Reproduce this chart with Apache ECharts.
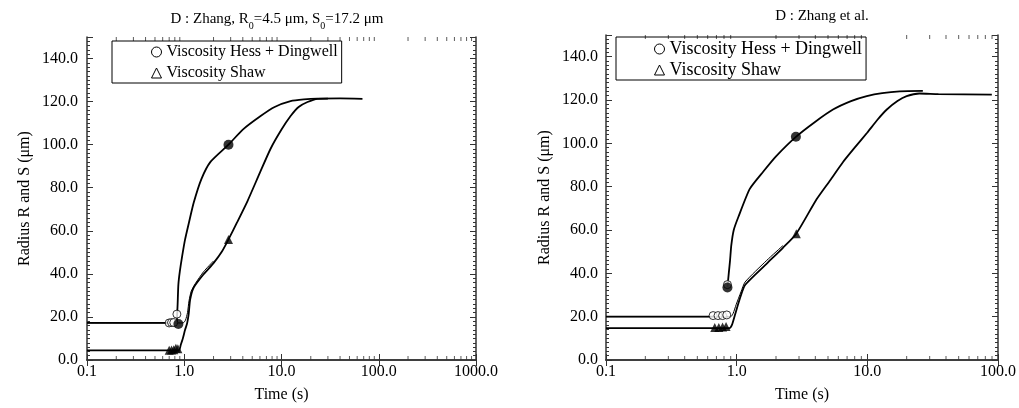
<!DOCTYPE html>
<html><head><meta charset="utf-8">
<script src="https://cdn.jsdelivr.net/npm/echarts@6/dist/echarts.min.js"></script>
<style>html,body{margin:0;padding:0;background:#fff}#c{width:1019px;height:408px}</style>
</head><body><div id="c"></div>
<script>
// ---------- DATA ----------
const leftTitle = 'D : Zhang, R{sub|0}=4.5 μm, S{sub|0}=17.2 μm';
const rightTitle = 'D : Zhang et al.';
const legendNames = ['Viscosity Hess + Dingwell', 'Viscosity Shaw'];
const xTicksLeft = [0.1, 1, 10, 100, 1000];
const xTicksRight = [0.1, 1, 10, 100];
const yTicks = [0, 20, 40, 60, 80, 100, 120, 140];

// Left panel (time s, radius um)
const leftHD = [[0.1,17.2],[0.83,17.2],[0.845,21],[0.855,26],[0.87,35],[0.9,41],[0.95,48],[1.02,56],[1.12,64],[1.25,73],[1.5,84],[1.86,92],[2.85,100],[4,107],[6.1,113.3],[8.5,117.5],[12.4,120.2],[17,121],[23.5,121.4],[40,121.5],[68,121.3]];
const leftShawR = [[0.1,4.5],[0.88,4.5],[0.92,7],[0.96,9.5],[1.02,14],[1.07,17],[1.11,21.3],[1.15,28],[1.25,33.6],[1.58,39.8],[2.0,45],[2.45,50.5],[2.85,56],[3.5,64],[4.46,73.7],[6,87],[7.7,98],[10,107],[12.4,113.3],[15,117.5],[18.5,119.8],[23.5,121.3],[30,121.4]];
const leftShawS = [[0.1,17.2],[0.97,17.2],[1.03,18.5],[1.08,22],[1.12,27.5],[1.18,32],[1.3,35.5],[1.58,41],[2.0,46]];
const leftHDOpen = [[0.70,17.2],[0.74,17.4],[0.78,17.4],[0.84,21.3]];
const leftHDFilled = [[0.87,16.7],[2.85,100]];
const leftShawMarks = [[0.70,4.5],[0.74,4.6],[0.78,4.8],[0.82,5.4],[0.86,5.2],[2.85,56]];

// Right panel
const rightHD = [[0.1,20],[0.86,20],[0.86,'-'],[0.85,33.5],[0.87,40],[0.89,46],[0.91,53],[0.95,60],[1.03,66],[1.26,79],[1.6,87],[2.0,94],[2.84,103],[4,110],[5.46,115.6],[7.5,119.5],[9.9,121.8],[13,123.2],[17.7,124],[26.6,124.2]];
const rightShawR = [[0.1,14.7],[0.88,14.7],[0.92,16.2],[0.97,20.8],[1.06,28.5],[1.16,34.6],[1.7,44.5],[2.26,51.8],[2.86,58.3],[4.1,74.3],[5.2,83],[6.5,91.3],[8,98],[10,105],[12,111],[14.1,115.6],[17,119.5],[20,121.8],[25,123],[35,122.7],[89.7,122.5]];
const rightShawS = [[0.1,20],[0.9,20],[0.94,21.5],[0.99,25.5],[1.08,31.5],[1.16,36],[1.7,46],[2.26,52.8]];
const rightHDOpen = [[0.66,20.5],[0.72,20.5],[0.78,20.5],[0.84,20.8],[0.85,34.8]];
const rightHDFilled = [[0.85,33.5],[2.84,103]];
const rightShawMarks = [[0.68,15],[0.73,15],[0.78,15.2],[0.83,15.5],[2.86,58.3]];

// log minor tick values (2..9 within each decade)
const minorMult = [2,3,4,5,6,7,8,9];
const decadesLeft = [0.1, 1, 10, 100];
const decadesRight = [0.1, 1, 10];
// ---------- END DATA ----------

const FONT = 'Liberation Serif';
const AX = '#333';
function minorTicks(decs){ const a=[]; decs.forEach(d=>minorMult.forEach(m=>a.push(+(d*m).toPrecision(6)))); return a; }
const fmt1 = v => Number(v).toFixed(1);

function xAxes(gi, max){
  const common = {gridIndex: gi, type:'log', logBase:10, min:0.1, max:max,
    axisLine:{lineStyle:{color:AX,width:1.5}}, splitLine:{show:false},
    axisTick:{inside:true,length:6,lineStyle:{color:AX}}};
  return [
    Object.assign({}, common, {position:'bottom',
      axisLabel:{formatter:fmt1, fontSize:16, color:'#000', fontFamily:FONT, margin:4, showMinLabel:true, showMaxLabel:true},
      name:'Time (s)', nameLocation:'middle', nameGap:27,
      nameTextStyle:{fontSize:16,color:'#000',fontFamily:FONT}}),
    Object.assign({}, common, {position:'top', axisLabel:{show:false}})
  ];
}
function yAxes(gi, margin, nameGap){
  const common = {gridIndex: gi, type:'value', min:0, max:150, interval:20,
    axisLine:{show:true,lineStyle:{color:AX,width:1.5}}, splitLine:{show:false},
    axisTick:{inside:true,length:6,lineStyle:{color:AX}},
    minorTick:{show:true,splitNumber:10,length:3,lineStyle:{color:AX}}};
  return [
    Object.assign({}, common, {position:'left',
      axisLabel:{formatter:fmt1, fontSize:16, color:'#000', fontFamily:FONT, margin:margin, showMaxLabel:false},
      name:'Radius R and S (μm)', nameLocation:'middle', nameGap:nameGap,
      nameTextStyle:{fontSize:16,color:'#000',fontFamily:FONT}}),
    Object.assign({}, common, {position:'right', axisLabel:{show:false}})
  ];
}
function lineS(name, data, xi, yi, w){
  return {type:'line', name:name, data:data, xAxisIndex:xi, yAxisIndex:yi, showSymbol:false,
    smooth:0.2, lineStyle:{color:'#000', width:w}, itemStyle:{color:'#000'}, silent:true, z:2};
}
function scat(name, data, xi, yi, symbol, filled, size){
  return {type:'scatter', name:name, data:data, xAxisIndex:xi, yAxisIndex:yi, symbol:symbol, symbolSize:size,
    itemStyle: filled ? {color:'#000'} : {color:'#fff', borderColor:'#000', borderWidth:1}, silent:true, z:3};
}
function tickS(data, xi, yi, dir){
  return {type:'scatter', data:data, xAxisIndex:xi, yAxisIndex:yi, symbol:'rect', symbolSize:[1,4],
    symbolOffset:[0, dir*2], itemStyle:{color:AX}, silent:true, z:1};
}

const mL = minorTicks(decadesLeft), mR = minorTicks(decadesRight);

const option = {
  animation:false,
  backgroundColor:'#fff',
  textStyle:{fontFamily:FONT},
  title:[
    {text:leftTitle, left:272, top:7, textAlign:'center',
     textStyle:{fontSize:15,fontWeight:'normal',color:'#000',fontFamily:FONT,
       rich:{sub:{fontSize:10,verticalAlign:'bottom',fontFamily:FONT,color:'#000',padding:[0,0,-4,0]}}}},
    {text:rightTitle, left:817, top:4, textAlign:'center',
     textStyle:{fontSize:15,fontWeight:'normal',color:'#000',fontFamily:FONT}}
  ],
  legend:[
    {left:112, top:41, orient:'vertical', padding:[3,4,2,39], itemGap:5, itemWidth:10, itemHeight:10,
     borderColor:'#000', borderWidth:1, selectedMode:false,
     textStyle:{fontSize:16,color:'#000',fontFamily:FONT},
     data:[{name:legendNames[0], icon:'circle', itemStyle:{color:'#fff',borderColor:'#000',borderWidth:1}},
           {name:legendNames[1], icon:'triangle', itemStyle:{color:'#fff',borderColor:'#000',borderWidth:1}}]},
    {left:616, top:37, orient:'vertical', padding:[3,4,1,38], itemGap:3, itemWidth:10, itemHeight:10,
     borderColor:'#000', borderWidth:1, selectedMode:false,
     textStyle:{fontSize:18,color:'#000',fontFamily:FONT},
     data:[{name:legendNames[0], icon:'circle', itemStyle:{color:'#fff',borderColor:'#000',borderWidth:1}},
           {name:legendNames[1], icon:'triangle', itemStyle:{color:'#fff',borderColor:'#000',borderWidth:1}}]}
  ],
  grid:[
    {left:87, right:543, top:37, bottom:45, containLabel:false},
    {left:606, right:21, top:35, bottom:46, containLabel:false}
  ],
  xAxis: xAxes(0, 1000).concat(xAxes(1, 100)),
  yAxis: yAxes(0, 9, 54).concat(yAxes(1, 8, 53)),
  series:[
    lineS(legendNames[0], leftHD, 0, 0, 1.8),
    lineS(legendNames[1], leftShawR, 0, 0, 1.8),
    lineS('S (Shaw)', leftShawS, 0, 0, 1),
    scat(legendNames[0], leftHDOpen, 0, 0, 'circle', false, 8),
    scat(legendNames[0], leftHDFilled, 0, 0, 'circle', true, 10),
    scat(legendNames[1], leftShawMarks, 0, 0, 'triangle', true, 9),
    tickS(mL.map(v=>[v,0]), 0, 0, -1),
    tickS(mL.map(v=>[v,150]), 0, 0, 1),

    lineS(legendNames[0], rightHD, 2, 2, 1.8),
    lineS(legendNames[1], rightShawR, 2, 2, 1.8),
    lineS('S (Shaw)', rightShawS, 2, 2, 1),
    scat(legendNames[0], rightHDOpen, 2, 2, 'circle', false, 8),
    scat(legendNames[0], rightHDFilled, 2, 2, 'circle', true, 10),
    scat(legendNames[1], rightShawMarks, 2, 2, 'triangle', true, 9),
    tickS(mR.map(v=>[v,0]), 2, 2, -1),
    tickS(mR.map(v=>[v,150]), 2, 2, 1)
  ]
};
const chart = echarts.init(document.getElementById('c'), null, {renderer:'canvas'});
chart.setOption(option);
</script>
</body></html>
